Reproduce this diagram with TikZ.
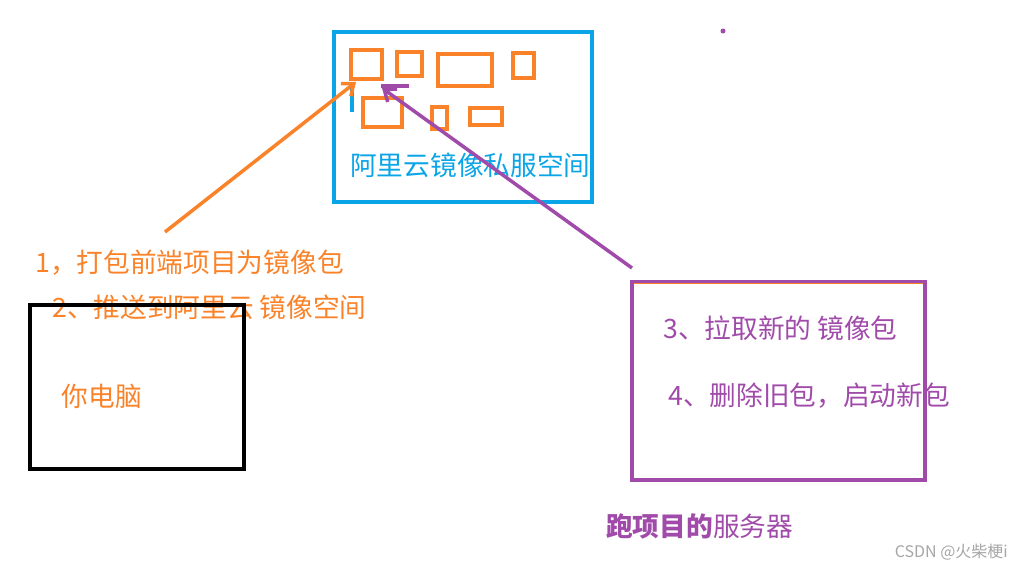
\documentclass[tikz,border=0pt]{standalone}
\usetikzlibrary{arrows.meta}
\usepackage{fontspec}
\setmainfont{Noto Sans CJK SC}
\definecolor{cblue}{RGB}{10,165,230}
\definecolor{corange}{RGB}{250,130,40}
\definecolor{cpurple}{RGB}{160,75,170}
\begin{document}
\begin{tikzpicture}[x=1pt,y=-1pt,
 ob/.style={draw=corange,line width=3.5pt},
 txt/.style={font=\fontsize{26.7}{28}\selectfont,inner sep=0pt}]
\useasboundingbox (0,0) rectangle (1012,570);
\node[draw=cblue,line width=4pt,minimum width=258pt,minimum height=170pt,inner sep=0pt] (cloud) at (463,117) {};
\foreach \a/\b/\c/\d [count=\i] in {351/50/382/79,397/52/422/76,438/54/492/86,513/53/534/78,363/98/402/127,432/107/447/129,470/108/502/125}
 \draw[ob] (\a,\b) rectangle (\c,\d);
\draw[cblue,line width=3.5pt] (352,85) -- (352,112);
\node[txt,text=cblue,anchor=west] (ct) at (350,165) {阿里云镜像私服空间};
\coordinate (oa) at (165,232);
\coordinate (ob) at (356,82);
\draw[corange,line width=3.5pt,-{Straight Barb[length=10pt,width=16pt]}] (oa) -- (ob);
\node[txt,text=corange,anchor=west] (t1) at (35,263) {1，打包前端项目为镜像包};
\node[txt,text=corange,anchor=west] (t2) at (52,307) {2、推送到阿里云 镜像空间};
\node[draw=black,line width=4pt,minimum width=214pt,minimum height=164pt,inner sep=0pt] (pc) at (137,387) {};
\node[txt,text=corange] (pct) at (102,396) {你电脑};
\node[draw=cpurple,line width=4pt,minimum width=293pt,minimum height=198pt,inner sep=0pt] (srv) at (778,381) {};
\draw[corange,line width=1pt] (634,283) -- (923,283);
\coordinate (pa) at (632,268);
\coordinate (pb) at (382,88);
\draw[cpurple,line width=3.5pt,-{Straight Barb[length=10pt,width=16pt]}] (pa) -- (pb);
\draw[cpurple,line width=3.5pt] (381,86) -- (409,86);
\node[txt,text=cpurple,anchor=west] (t3) at (663,328) {3、拉取新的 镜像包};
\node[txt,text=cpurple,anchor=west] (t4) at (668,396) {4、删除旧包，启动新包};
\node[txt,text=cpurple,anchor=west] (sl) at (606,526) {\textbf{跑项目的}服务器};
\fill[cpurple] (723,31) circle (2.5pt);
\node[inner sep=0pt,text=gray!70,font=\fontsize{16}{18}\selectfont,anchor=east] (wm) at (1008,552) {CSDN @火柴梗i};
\end{tikzpicture}
\end{document}
